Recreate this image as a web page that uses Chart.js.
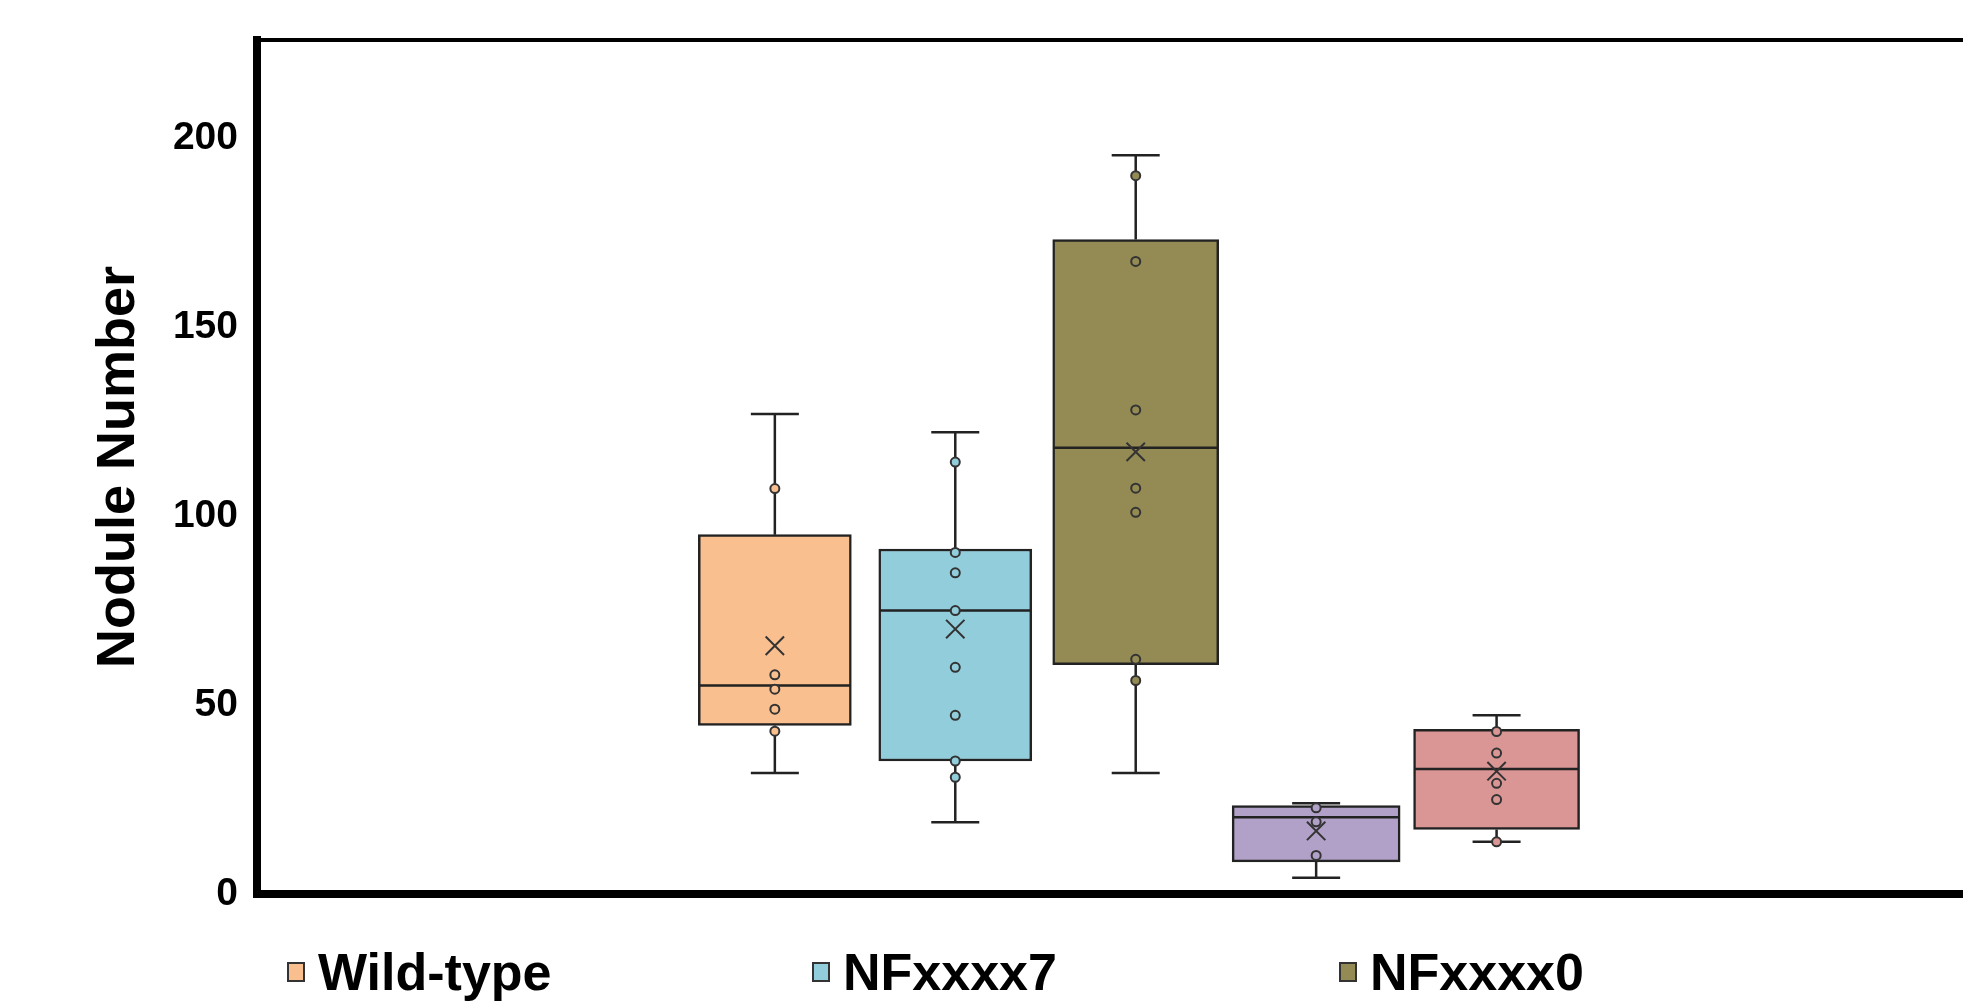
<!DOCTYPE html>
<html>
<head>
<meta charset="utf-8">
<title>Nodule Number</title>
<script src="https://cdn.jsdelivr.net/npm/chart.js@4.4.1/dist/chart.umd.min.js"></script>
<style>
  html, body { margin: 0; padding: 0; background: #fff; overflow: hidden; }
  #wrap { position: relative; width: 1963px; height: 1005px; }
  .legend-item {
    position: absolute; top: 946px; display: flex; align-items: center;
    font: bold 52px 'Liberation Sans', Arial, sans-serif; line-height: 52px; color: #000;
    white-space: nowrap;
  }
  .legend-item .swatch {
    width: 18px; height: 20px; box-sizing: border-box;
    border: 2px solid #333; margin-right: 13px;
  }
</style>
</head>
<body>
<div id="wrap">
  <canvas id="chart"></canvas>
  <div id="legend"></div>
</div>
<script>
// Nodule Number - box plots built from floating bars + scatter points

// x position of each group on the (hidden) linear axis
const groupX = [1, 2, 3, 4, 5];
const legendNames = ['Wild-type', 'NFxxxx7', 'NFxxxx0'];

// five-number summaries
const whiskerMin = [32, 19, 32, 4.3, 13.8];
const q1 = [44.6, 35.2, 60.7, 8.5, 17.1];
const median = [55.2, 75, 118.1, 20.3, 33.1];
const q3 = [95.1, 91.3, 173.2, 23.4, 43.6];
const whiskerMax = [127, 122.2, 195.5, 24, 47.3];
const means = [65.7, 70.1, 117, 16.7, 32.5];

// individual points shown inside each box
const points = [
  [107.3, 58, 54.2, 48.9, 43.1],
  [114.3, 90.4, 85, 75, 60, 47.3, 35.2, 30.9],
  [190.1, 167.4, 128.1, 107.4, 101, 62.1, 56.5],
  [22.8, 19.1, 10.2],
  [43, 37.3, 29.3, 25, 13.8]
];

const yTicks = [0, 50, 100, 150, 200];

// styles
const colors = ['#FABF8F', '#92CDDC', '#948A54', '#B1A0C7', '#DA9694'];
const boxWidths = [153, 153, 166, 168, 166];
const capWidth = 48;
const lineColor = '#222';

Chart.defaults.font.family = "'Liberation Sans', Arial, sans-serif";
Chart.defaults.color = '#000';

// whiskers + median line, drawn right after each box
const boxLines = {
  id: 'boxLines',
  afterDatasetDraw(chart, args) {
    if (args.meta.type !== 'bar') return;
    const i = args.index;
    const y = chart.scales.y;
    const bar = args.meta.data[0];
    const x = bar.x, half = bar.width / 2, cap = capWidth / 2;
    const yMax = y.getPixelForValue(whiskerMax[i]);
    const yMin = y.getPixelForValue(whiskerMin[i]);
    const yQ1 = y.getPixelForValue(q1[i]);
    const yQ3 = y.getPixelForValue(q3[i]);
    const yMed = y.getPixelForValue(median[i]);
    const ctx = chart.ctx;
    ctx.save();
    ctx.strokeStyle = lineColor;
    ctx.lineWidth = 2.5;
    ctx.beginPath();
    ctx.moveTo(x, yQ3); ctx.lineTo(x, yMax);
    ctx.moveTo(x - cap, yMax); ctx.lineTo(x + cap, yMax);
    ctx.moveTo(x, yQ1); ctx.lineTo(x, yMin);
    ctx.moveTo(x - cap, yMin); ctx.lineTo(x + cap, yMin);
    ctx.moveTo(x - half + 1, yMed); ctx.lineTo(x + half - 1, yMed);
    ctx.stroke();
    ctx.restore();
  }
};

const datasets = [];
groupX.forEach((gx, i) => {
  datasets.push({
    type: 'bar',
    label: legendNames[i] || '',
    data: [{ x: gx, y: [q1[i], q3[i]] }],
    backgroundColor: colors[i],
    borderColor: lineColor,
    borderWidth: 2.5,
    borderSkipped: false,
    grouped: false,
    barThickness: boxWidths[i],
    order: 2
  });
});
groupX.forEach((gx, i) => {
  datasets.push({
    type: 'scatter',
    data: points[i].map(v => ({ x: gx, y: v })),
    pointStyle: 'circle',
    pointRadius: 4.5,
    pointBorderWidth: 2,
    pointBorderColor: '#333',
    pointBackgroundColor: colors[i],
    order: 1
  });
});
datasets.push({
  type: 'scatter',
  data: means.map((v, i) => ({ x: groupX[i], y: v })),
  pointStyle: 'crossRot',
  pointRadius: 13,
  pointBorderWidth: 2,
  pointBorderColor: '#333',
  order: 0
});

new Chart(document.getElementById('chart'), {
  type: 'bar',
  data: { datasets },
  options: {
    responsive: true,
    maintainAspectRatio: false,
    animation: false,
    layout: { autoPadding: false, padding: { top: 40, right: 0, bottom: 111, left: 0 } },
    plugins: {
      legend: { display: false },
      tooltip: { enabled: false }
    },
    scales: {
      x: {
        type: 'linear',
        offset: false,
        min: -1.87,
        max: 7.585,
        ticks: { display: false },
        grid: { display: false, drawTicks: false },
        border: { display: true, width: 8, color: '#000' }
      },
      x2: {
        type: 'linear',
        position: 'top',
        ticks: { display: false },
        grid: { display: false, drawTicks: false },
        border: { display: true, width: 4, color: '#000' }
      },
      y: {
        min: 0,
        max: 226,
        afterBuildTicks: s => { s.ticks = yTicks.map(v => ({ value: v })); },
        afterFit: s => { s.width = 257; },
        ticks: { font: { size: 39, weight: 'bold' }, color: '#000', padding: 15 },
        grid: { drawOnChartArea: false, tickLength: 4, lineWidth: 5, color: '#000' },
        border: { width: 8, color: '#000' },
        title: {
          display: true,
          text: 'Nodule Number',
          font: { size: 54, weight: 'bold' },
          color: '#000',
          padding: { top: 87, bottom: 0 }
        }
      }
    }
  },
  plugins: [boxLines]
});

// legend below the plot (only the first three series fit in the picture)
const legendLeft = [287, 812, 1339];
const legend = document.getElementById('legend');
legendNames.forEach((name, i) => {
  const item = document.createElement('div');
  item.className = 'legend-item';
  item.style.left = legendLeft[i] + 'px';
  const sw = document.createElement('span');
  sw.className = 'swatch';
  sw.style.background = colors[i];
  item.appendChild(sw);
  item.appendChild(document.createTextNode(name));
  legend.appendChild(item);
});
</script>
</body>
</html>
